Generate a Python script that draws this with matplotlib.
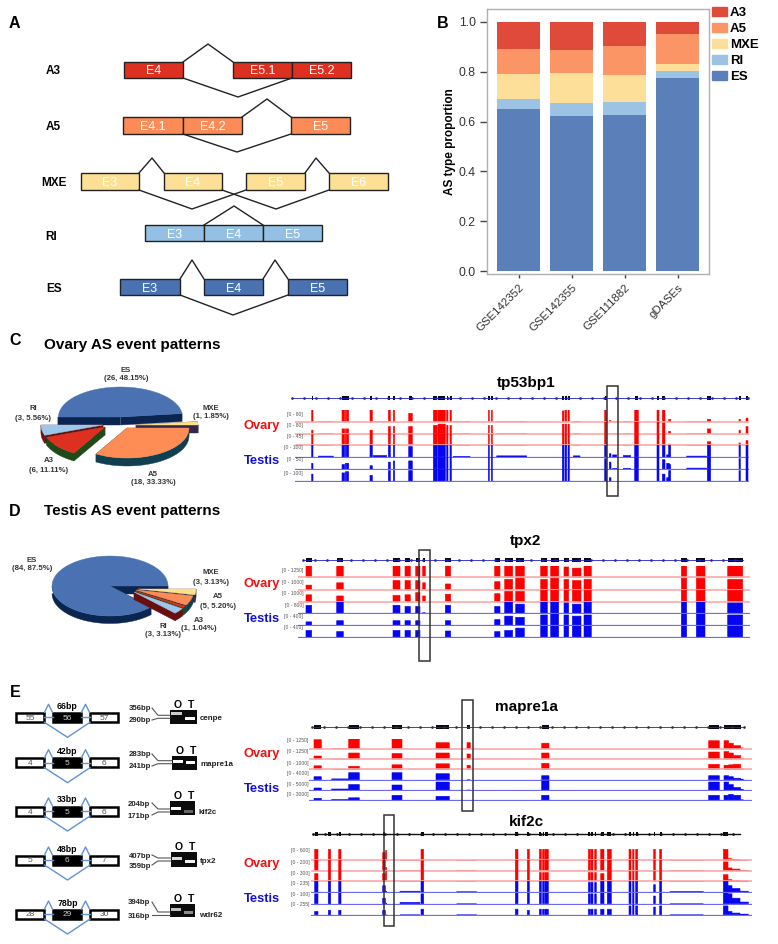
import numpy as np
from matplotlib import pyplot as plt
from matplotlib.patches import Patch, Rectangle

plt.rcParams['font.family'] = ['Liberation Sans', 'DejaVu Sans']

W, H = 778, 944

# panel B
datasets = ['GSE142352', 'GSE142355', 'GSE111882', 'gDASEs']
es_share = [0.650, 0.623, 0.627, 0.775]
ri_share = [0.042, 0.052, 0.053, 0.030]
mxe_share = [0.098, 0.121, 0.105, 0.028]
a5_share = [0.100, 0.092, 0.118, 0.120]
a3_share = [0.110, 0.112, 0.097, 0.047]

# panels C and D, counts per slice
ovary_counts = [26, 1, 18, 6, 3]      # ES MXE A5 A3 RI
testis_counts = [84, 3, 1, 5, 3]      # ES RI A3 A5 MXE

# panel E gels: bp labels, junction size, exon numbers, band brightness
gel_genes = ['cenpe', 'mapre1a', 'kif2c', 'tpx2', 'wdr62']
gel_junction = ['66bp', '42bp', '33bp', '48bp', '78bp']
gel_upper = ['356bp', '283bp', '204bp', '407bp', '394bp']
gel_lower = ['290bp', '241bp', '171bp', '359bp', '316bp']
gel_exons = [(55, 56, 57), (4, 5, 6), (4, 5, 6), (5, 6, 7), (28, 29, 30)]
gel_o_band = [0.8, 1.0, 1.0, 0.85, 0.75]
gel_t_band = [1.0, 1.0, 0.4, 0.95, 0.55]

# browser tracks: exon start, width, height in ovary x3 and testis x3
tp53_ranges = ['[0 - 80]', '[0 - 80]', '[0 - 45]', '[0 - 100]', '[0 - 50]', '[0 - 100]']
tp53_exons = [
    (215, 4, [1, .3, .9, 1, .5, .6]),
    (306, 8, [1, .4, .9, 1, .4, .7]),
    (316, 4, [1, .4, .9, 1, .5, .8]),
    (321, 5, [1, .4, .9, 1, .5, .8]),
    (390, 7, [1, .3, 1, 1, .3, .5]),
    (445, 6, [1, .6, 1, 1, .6, .9]),
    (460, 4, [1, .6, .9, 1, .7, .9]),
    (506, 11, [.7, .6, .9, .9, .7, .9]),
    (580, 12, [1, .7, 1, 1, 1, 1]),
    (594, 22, [1, .8, 1, 1, 1, 1]),
    (620, 4, [1, .7, 1, 1, 1, 1]),
    (630, 4, [1, .7, 1, 1, 1, 1]),
    (745, 3, [1, .7, .9, 1, 1, 1]),
    (754, 3, [1, .7, .9, 1, 1, 1]),
    (967, 5, [.9, .8, 1, 1, 1, 1]),
    (975, 5, [1, .8, 1, 1, 1, 1]),
    (984, 4, [1, .8, 1, 1, 1, 1]),
    (1094, 6, [1, 1, 1, 1, .9, 1]),
    (1184, 11, [1, 1, 1, 1, 1, 1]),
    (1251, 6, [1, 1, 1, 1, 1, 1]),
    (1267, 8, [1, .9, 1, 1, .8, .6]),
    (1402, 10, [.2, .4, .3, 1, 1, 1]),
    (1497, 4, [.2, .3, .2, 1, .9, .9]),
    (1518, 6, [.3, .6, .4, 1, 1, 1]),
]
tp53_extra = [
    (1108, 5, [.1, 0, 0, .3, .6, .3]),
    (1118, 12, [0, 0, 0, .2, .08, 0]),
    (1286, 6, [.2, .2, .1, 1, .4, .9]),
    (1150, 22, [0, 0, 0, .15, .08, 0]),
    (1340, 60, [0, 0, 0, .1, .1, 0]),
    (1280, 8, [0, 0, 0, .2, .5, .3]),
    (235, 45, [0, 0, 0, .1, 0, 0]),
    (400, 40, [0, 0, 0, .15, 0, 0]),
    (770, 90, [0, 0, 0, .12, 0, 0]),
    (1000, 20, [0, 0, 0, .12, 0, 0]),
    (640, 50, [0, 0, 0, .08, 0, 0]),
]

tpx2_ranges = ['[0 - 1250]', '[0 - 1000]', '[0 - 1000]', '[0 - 800]', '[0 - 400]', '[0 - 400]']
tpx2_exons = [
    (198, 17, [1, .4, .6, .7, .3, .6]),
    (290, 20, [1, .6, .5, 1, .4, .5]),
    (459, 21, [1, .8, .55, .7, .4, .6]),
    (495, 16, [1, .8, .6, .6, .4, .6]),
    (527, 13, [1, .8, .8, .6, .4, .6]),
    (548, 8, [1, .6, .5, .05, 0, 0]),
    (616, 16, [1, .5, .65, .7, .4, .55]),
    (764, 16, [1, .7, .7, .6, .5, .5]),
    (794, 24, [1, .9, .9, 1, .8, .6]),
    (827, 26, [1, 1, .9, .8, .7, .8]),
    (902, 20, [1, .9, 1, 1, .9, 1]),
    (932, 24, [1, 1, 1, 1, 1, 1]),
    (972, 14, [.9, .9, 1, .9, .9, 1]),
    (997, 26, [.8, .8, 1, .8, .8, 1]),
    (1032, 22, [1, .9, 1, 1, .9, 1]),
    (1324, 16, [1, 1, 1, 1, 1, 1]),
    (1369, 26, [1, 1, 1, 1, 1, 1]),
    (1463, 45, [1, .9, 1, .9, .9, 1]),
]

mapre1a_ranges = ['[0 - 1250]', '[0 - 1250]', '[0 - 1000]', '[0 - 4000]', '[0 - 5000]', '[0 - 3000]']
mapre1a_exons = [
    (222, 22, [.9, .3, .35, .3, .2, .2]),
    (326, 32, [1, .6, .3, .7, .55, .25]),
    (456, 30, [1, .55, .45, .7, .5, .5]),
    (588, 40, [.6, .6, .55, .6, .8, .4]),
    (681, 10, [.6, .5, .4, 0, 0, 0]),
    (905, 22, [.55, .6, .6, .4, .9, .5]),
    (1406, 32, [.8, .7, .5, .4, .8, .5]),
    (1452, 14, [.8, .75, .4, .4, .8, .5]),
    (1466, 14, [.55, .6, .45, .3, .55, .6]),
    (1480, 22, [.3, .35, .5, .15, .25, .5]),
]
mapre1a_extra = [
    (275, 51, [0, 0, 0, .08, .1, .08]),
    (1502, 8, [.08, .08, .05, .05, .05, .05]),
]

kif2c_ranges = ['[0 - 600]', '[0 - 200]', '[0 - 300]', '[0 - 235]', '[0 - 100]', '[0 - 255]']
kif2c_exons = [
    (224, 10, [1, 1, .7, 1, .9, .3]),
    (265, 7, [1, 1, 1, 1, 1, .4]),
    (296, 7, [1, 1, 1, 1, 1, .4]),
    (428, 8, [.7, 1, .7, .6, .5, .4]),
    (543, 8, [1, .9, 1, 1, .9, .5]),
    (826, 8, [1, 1, 1, 1, 1, .5]),
    (862, 6, [1, 1, 1, 1, 1, .4]),
    (898, 6, [1, 1, .8, 1, 1, .5]),
    (908, 5, [1, 1, .8, 1, 1, .5]),
    (915, 10, [1, 1, .8, 1, 1, .5]),
    (1045, 6, [1, 1, .8, .9, .9, .5]),
    (1053, 6, [1, 1, .8, .9, .9, .5]),
    (1064, 5, [1, 1, .8, .9, .9, .5]),
    (1082, 10, [1, 1, .7, 1, 1, .5]),
    (1102, 12, [1, 1, 1, 1, 1, .5]),
    (1167, 6, [1, 1, .9, 1, 1, .8]),
    (1178, 4, [1, 1, .9, 1, 1, .9]),
    (1187, 6, [1, 1, .9, 1, 1, .8]),
    (1241, 5, [1, 1, .9, .7, .7, .7]),
    (1259, 6, [1, 1, 1, 1, 1, .8]),
    (1450, 14, [1, .8, .6, 1, 1, .8]),
]
kif2c_extra = [
    (437, 3, [.9, .3, .9, .1, .05, 0]),
    (1464, 12, [.15, .25, .15, .6, .9, .3]),
    (1476, 24, [.05, .15, .06, .35, .5, .15]),
    (480, 60, [0, 0, 0, .1, .12, 0]),
    (650, 60, [0, 0, 0, .05, 0, 0]),
    (1500, 25, [0, .03, .03, .1, .15, .05]),
    (1290, 100, [0, 0, 0, .07, 0, 0]),
]

fig = plt.figure(figsize=(W / 100, H / 100), dpi=100, facecolor='white')

# overlay in pixel coordinates, sits above the track axes
ov = fig.add_axes([0, 0, 1, 1], zorder=5)
ov.set_xlim(0, W)
ov.set_ylim(H, 0)
ov.axis('off')
ov.patch.set_alpha(0)


def px_axes(left, top, right, bottom, **kw):
    return fig.add_axes([left / W, 1 - bottom / H, (right - left) / W, (bottom - top) / H], **kw)


def label(x, y, s, size=8, weight='bold', color='black', ha='center', **kw):
    ov.text(x, y, s, fontsize=size, fontweight=weight, color=color, ha=ha, va='center_baseline', **kw)


for letter, x, y in [('A', 14, 22), ('B', 443, 22), ('C', 15, 339), ('D', 15, 510), ('E', 15, 691)]:
    label(x, y, letter, size=11.5)

# panel A, splicing schemes
schemes = [
    ('A3', 53, 70, 62, 78, '#de3020', [('E4', 124, 183), ('E5.1', 233, 292), ('E5.2', 292, 351)],
     [[(183, 62), (208, 44), (233, 62)], [(183, 78), (238, 97), (292, 78)]]),
    ('A5', 53, 126, 117, 134, '#fd8b58', [('E4.1', 123, 183), ('E4.2', 183, 242), ('E5', 291, 350)],
     [[(242, 117), (267, 99), (291, 117)], [(183, 134), (237, 152), (291, 134)]]),
    ('MXE', 54, 181, 173, 190, '#fde096', [('E3', 81, 139), ('E4', 164, 222), ('E5', 246, 305), ('E6', 329, 388)],
     [[(139, 173), (152, 158), (164, 173)], [(305, 173), (316, 158), (329, 173)],
      [(139, 190), (192, 209), (246, 190)], [(222, 190), (276, 209), (329, 190)]]),
    ('RI', 51, 236, 225, 241, '#93c0e4', [('E3', 145, 204), ('E4', 204, 263), ('E5', 263, 322)],
     [[(204, 225), (234, 206), (263, 225)]]),
    ('ES', 54, 287, 279, 295, '#4a72b2', [('E3', 120, 180), ('E4', 204, 263), ('E5', 288, 347)],
     [[(180, 279), (192, 260), (204, 279)], [(263, 279), (275, 260), (288, 279)],
      [(180, 295), (233, 315), (288, 295)]]),
]
for name, lx, ly, top, bot, col, boxes, joins in schemes:
    label(lx, ly, name, size=8.5)
    for txt, x0, x1 in boxes:
        ov.add_patch(Rectangle((x0, top), x1 - x0, bot - top, fc=col, ec='#222222', lw=1))
        label((x0 + x1) / 2, (top + bot) / 2, txt, size=9, weight='normal', color='white')
    for pts in joins:
        ov.plot(*zip(*pts), color='#222222', lw=1)

# panel B, stacked bars
axb = px_axes(487, 9, 709, 274)
xpos = np.arange(len(datasets))
stack = [('ES', es_share, '#5b7fb8'), ('RI', ri_share, '#9dc3e4'), ('MXE', mxe_share, '#fddf9a'),
         ('A5', a5_share, '#fc9565'), ('A3', a3_share, '#e04a3a')]
bottom = np.zeros(len(datasets))
for name, vals, col in stack:
    axb.bar(xpos, vals, 0.8, bottom=bottom, color=col, label=name)
    bottom += np.array(vals)
axb.set_xlim(-0.594, 3.59)
axb.set_ylim(-0.012, 1.052)
axb.set_yticks([0, 0.2, 0.4, 0.6, 0.8, 1.0])
axb.set_xticks(xpos)
axb.set_xticklabels(datasets, rotation=45, ha='right', rotation_mode='anchor')
axb.tick_params(axis='y', labelsize=8.8, length=5, width=1, color='#444444', labelcolor='#333333', pad=3)
axb.tick_params(axis='x', labelsize=8.2, length=3, width=1, color='#444444', labelcolor='#333333', pad=3)
axb.set_ylabel('AS type proportion', fontsize=8.5, fontweight='bold')
axb.yaxis.set_label_coords(-0.14, 0.5)
for sp in axb.spines.values():
    sp.set_color('#b0b0b0')
    sp.set_linewidth(1)
hand = [Patch(color=c, label=n) for n, v, c in stack[::-1]]
axb.legend(handles=hand, loc='upper left', bbox_to_anchor=(1.0, 1.017), frameon=False,
           handlelength=1.14, handleheight=0.65, handletextpad=0.25, labelspacing=0.3, borderaxespad=0.1,
           borderpad=0.1, prop={'weight': 'bold', 'size': 9.5})


def pie3d(counts, tops, sides, apexes, start, direction, order, rx, ry, depth):
    sweep = 360 * np.array(counts) / sum(counts)
    edges = start + direction * np.concatenate([[0], np.cumsum(sweep)])
    for i in order:
        th = np.radians(np.linspace(edges[i], edges[i + 1], 90))
        ax_, ay_ = apexes[i]
        xs = ax_ + rx * np.cos(th)
        ys = ay_ - ry * np.sin(th)
        # cut faces, then the rim, then the top
        for k in (0, -1):
            ov.fill([ax_, xs[k], xs[k], ax_], [ay_, ys[k], ys[k] + depth, ay_ + depth], color=sides[i], lw=0.3)
        low = np.sin(th) <= 0.02
        if low.any():
            ov.fill(np.r_[xs[low], xs[low][::-1]], np.r_[ys[low], ys[low][::-1] + depth], color=sides[i], lw=0.3)
        ov.fill(np.r_[ax_, xs], np.r_[ay_, ys], color=tops[i], lw=0.3)


def two_lines(x, y, a, b, size=5.6):
    label(x, y, a, size=size, color='#333333')
    label(x, y + 9, b, size=size, color='#333333')


# panel C
label(132, 343, 'Ovary AS event patterns', size=11)
pie3d(ovary_counts,
      ['#4a72b2', '#fde08a', '#fd8c55', '#de3020', '#9cc6ea'],
      ['#0a2550', '#35264f', '#0f3f50', '#1f4a1a', '#6a0f10'],
      [(120.5, 417), (136, 425), (127, 428), (105, 427), (103, 425)],
      180, -1, [0, 1, 2, 4, 3], 62, 30, 8)
two_lines(126, 369, 'ES', '(26, 48.15%)')
two_lines(33, 408, 'RI', '(3, 5.56%)')
two_lines(211, 407, 'MXE', '(1, 1.85%)')
two_lines(49, 460, 'A3', '(6, 11.11%)')
two_lines(153, 473, 'A5', '(18, 33.33%)')

# panel D
label(132, 510, 'Testis AS event patterns', size=11)
pie3d(testis_counts,
      ['#4a72b2', '#9cc6ea', '#de3020', '#fd8c55', '#fde08a'],
      ['#0a2550', '#6a0f10', '#1f4a1a', '#0f3f50', '#35264f'],
      [(110, 586), (134, 592), (135, 591), (136, 590), (138, 589)],
      0, 1, [0, 4, 3, 2, 1], 58, 30, 7.5)
two_lines(32, 559, 'ES', '(84, 87.5%)')
two_lines(211, 572, 'MXE', '(3, 3.13%)')
two_lines(218, 596, 'A5', '(5, 5.20%)')
two_lines(199, 619, 'A3', '(1, 1.04%)')
two_lines(163, 625, 'RI', '(3, 3.13%)')


def browser(ox, title, title_y, gene_y, gene_z, gene_col, gene_lw, baselines, track_h, ranges, range_z, range_y,
            exons, extra, line_z, ovary_y, testis_y, box):
    # exon positions are read in the 3x zoomed frame, hence the /3
    label(ox + 286, title_y, title, size=11)
    ov.plot([ox + gene_z[0] / 3, ox + gene_z[1] / 3], [gene_y, gene_y], color=gene_col, lw=gene_lw)
    dots = np.arange(gene_z[0], gene_z[1], 36)
    ov.plot(ox + dots / 3, np.full(len(dots), gene_y), ls='', marker='o', ms=0.9, color=gene_col)
    for start, width, _ in exons:
        ov.add_patch(Rectangle((ox + start / 3, gene_y - 1.7), max(width, 5) / 3, 3.4, fc='#0a0a14', ec='none'))
    for i, base in enumerate(baselines):
        col = '#fe0000' if i < 3 else '#0505f0'
        tr = px_axes(ox + line_z[0] / 3, base - track_h, ox + line_z[1] / 3, base + 0.8)
        tr.set_xlim(*line_z)
        tr.set_ylim(-0.8 / track_h, 1)
        tr.axis('off')
        tr.patch.set_alpha(0)
        rows = exons + extra
        bars = tr.bar([r[0] for r in rows], [r[2][i] for r in rows], [r[1] for r in rows], align='edge',
                      color=col, edgecolor=col, lw=0.4)
        for b in bars:
            b.set_snap(False)
        tr.axhline(0, color='#fba8a8' if i < 3 else '#6a6af5', lw=1.2 if i < 3 else 0.9)
        label(ox + range_z / 3, range_y[i], ranges[i], size=3.6, weight='normal', color='#555555', ha='right')
    label(ox + 22, ovary_y, 'Ovary', size=9.3, color='#f01010')
    label(ox + 22, testis_y, 'Testis', size=9.3, color='#1010e0')
    ov.add_patch(Rectangle((box[0], box[2]), box[1] - box[0], box[3] - box[2], fc='none', ec='#333333', lw=1.1))


browser(240, 'tp53bp1', 382, 398, (155, 1525), '#2020c0', 0.6, [421.7, 433.7, 445.3, 457.3, 469.3, 481.3], 12,
        tp53_ranges, 188, [414, 425, 436, 447, 459, 473], tp53_exons, tp53_extra, (165, 1528), 424, 459,
        (607, 618, 386, 496))
browser(240, 'tpx2', 540, 560, (190, 1510), '#2020c0', 0.6, [577.3, 589.7, 601.7, 613.3, 625.3, 637.3], 11.5,
        tpx2_ranges, 190, [570, 582, 593, 605, 616, 627], tpx2_exons, [], (175, 1530), 583, 618,
        (419, 430, 550, 661))
browser(240, 'mapre1a', 705, 727, (215, 1513), '#333333', 0.6, [748.7, 759, 769.3, 779.7, 790, 800.3], 10,
        mapre1a_ranges, 205, [740, 751, 763, 773, 784, 794], mapre1a_exons, mapre1a_extra, (208, 1535), 752, 787,
        (462, 473, 700, 811))
browser(240, 'kif2c', 821, 834, (220, 1500), '#111111', 1.0, [860.3, 870.7, 881.3, 892.3, 903.7, 914.7], 11,
        kif2c_ranges, 210, [850, 862, 873, 883, 894, 904], kif2c_exons, kif2c_extra, (212, 1535), 862, 897,
        (384, 394, 815, 926))

# panel E, junction schemes and gels
row_y = [717.3, 762.7, 811, 860, 914]
gel_x = [(170, 197), (172, 197), (170, 195), (171, 197), (170, 195)]
gel_top = [710, 756, 801, 852, 904]
gel_bot = [724, 770, 815, 867, 917]
o_band_y = [713, 761, 808, 858, 909]
t_band_y = [718, 762, 811, 861, 912]
upper_y = [708, 754, 803, 855, 902]
lower_y = [720, 766, 815, 865, 915]
label_x = [151, 151, 150, 151, 150]
name_x = [200, 201, 199, 200, 199]
for i, y in enumerate(row_y):
    for (x0, x1), n, fc, tc in zip([(16, 44), (53, 81.5), (90, 118)], gel_exons[i],
                                   ['white', 'black', 'white'], ['#555555', '#cccccc', '#555555']):
        ov.add_patch(Rectangle((x0, y - 4.5), x1 - x0, 9, fc=fc, ec='black', lw=1.8))
        label((x0 + x1) / 2, y, str(n), size=6, weight='normal', color=tc)
    blue = '#6092d6'
    ov.plot([44.5, 53], [y, y], color=blue, lw=1)
    ov.plot([81.5, 90], [y, y], color=blue, lw=1)
    ov.plot([44.5, 48.5, 52.5], [y - 5, y - 13, y - 5], color=blue, lw=1)
    ov.plot([81.5, 85.5, 89.5], [y - 5, y - 13, y - 5], color=blue, lw=1)
    ov.plot([44.5, 67.5, 90], [y + 5, y + 20, y + 5], color=blue, lw=1)
    label(67.5, y - 12, gel_junction[i], size=6.3)

    x0, x1 = gel_x[i]
    ov.add_patch(Rectangle((x0, gel_top[i]), x1 - x0, gel_bot[i] - gel_top[i], fc='#0c0c0c', ec='none'))
    mid = (x0 + x1) / 2
    ov.add_patch(Rectangle((x0 + 1.5, o_band_y[i] - 1.5), mid - x0 - 3, 3, fc=str(gel_o_band[i]), ec='none'))
    ov.add_patch(Rectangle((mid + 1.5, t_band_y[i] - 1.5), x1 - mid - 3, 3, fc=str(gel_t_band[i]), ec='none'))
    label(x0 + 7.5, gel_top[i] - 6, 'O', size=7.5)
    label(x0 + 21, gel_top[i] - 6, 'T', size=7.5)
    label(label_x[i], upper_y[i], gel_upper[i], size=5.6, color='#222222', ha='right')
    label(label_x[i], lower_y[i], gel_lower[i], size=5.6, color='#222222', ha='right')
    ov.plot([152, 158, x0], [upper_y[i], y - 2, y - 2], color='#555555', lw=0.8)
    ov.plot([152, 158, x0], [lower_y[i], y + 1, y + 1], color='#555555', lw=0.8)
    label(name_x[i], y + 0.5, gel_genes[i], size=5.8, color='#222222', ha='left')

fig.savefig('out.png', dpi=100)
